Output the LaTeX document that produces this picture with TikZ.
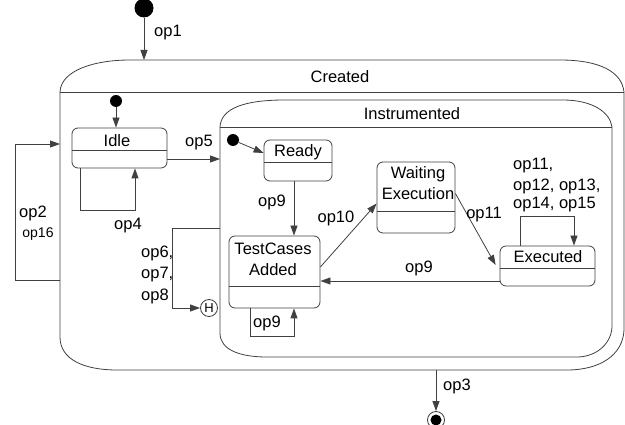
\documentclass[tikz,border=0pt]{standalone}
\usepackage{fontspec}
\setmainfont{Liberation Sans}
\usetikzlibrary{arrows.meta}
\begin{document}
\begin{tikzpicture}[x=1pt,y=-1pt,
  line/.style={draw=black!75, line width=0.8pt},
  arr/.style={line, -{Triangle[length=10pt,width=7pt]}},
  state/.style n args={2}{line, rounded corners=6pt, minimum width=#1, minimum height=#2, inner sep=0pt},
  lbl/.style={font=\fontsize{16.5}{20}\selectfont, inner sep=0pt},
  small/.style={font=\fontsize{14}{17}\selectfont, inner sep=0pt},
  dot/.style={circle, fill=black, inner sep=0pt, minimum size=#1}]
\useasboundingbox (0,0) rectangle (625,425);

% composite state "Created"
\draw[line] (60,92) .. controls (61,70) and (95,60) .. (130,60) -- (560,60)
  .. controls (600,60) and (622,72) .. (624,92) -- (624,330)
  .. controls (623,355) and (600,370) .. (567,370) -- (117,370)
  .. controls (85,370) and (60,360) .. (60,337) -- cycle;
\draw[line] (60,92) -- (624,92);
\node[lbl] (createdT) at (340,77) {Created};

% composite state "Instrumented"
\draw[line] (220,127) .. controls (221,108) and (245,100) .. (285,100) -- (563,100)
  .. controls (592,100) and (610,112) .. (612,127) -- (612,327)
  .. controls (611,345) and (595,357) .. (577,357) -- (267,357)
  .. controls (240,357) and (220,350) .. (220,333) -- cycle;
\draw[line] (220,127) -- (612,127);
\node[lbl] (instrT) at (412,114) {Instrumented};

% boundary points of the composite states
\coordinate (crTop) at (144,60);
\coordinate (crL1) at (60,280);
\coordinate (crL2) at (60,144);
\coordinate (crB) at (436,370);
\coordinate (inL) at (220,159);
\coordinate (inH) at (220,228);

% pseudo states
\node[dot=19pt] (init0) at (144,8) {};
\node[dot=12pt] (init1) at (116,101) {};
\node[dot=12pt] (init2) at (233,140) {};
\node[circle, line, minimum size=17pt, inner sep=0pt, font=\fontsize{13}{15}\selectfont] (hist) at (209,308) {H};
\node[circle, line, minimum size=17pt, inner sep=0pt] (final) at (436,420) {};
\fill (final.center) circle[radius=5.5pt];

% simple states
\node[state={95pt}{40pt}] (idle) at (119.5,148) {};
\draw[line] (idle.west |- 0,150) -- (idle.east |- 0,150);
\node[lbl] (idleT) at (117,141) {Idle};

\node[state={68pt}{41pt}] (ready) at (298,160.5) {};
\draw[line] (ready.west |- 0,162) -- (ready.east |- 0,162);
\node[lbl] (readyT) at (298,152) {Ready};

\node[state={91pt}{72pt}] (tc) at (274.5,272) {};
\draw[line] (tc.west |- 0,286) -- (tc.east |- 0,286);
\node[lbl] (tcT1) at (273,249) {TestCases};
\node[lbl] (tcT2) at (273,270) {Added};

\node[state={78pt}{71pt}] (wait) at (416,197.5) {};
\draw[line] (wait.west |- 0,211) -- (wait.east |- 0,211);
\node[lbl] (waitT1) at (418,174) {Waiting};
\node[lbl] (waitT2) at (418,194) {Execution};

\node[state={95pt}{40pt}] (exec) at (547.5,266) {};
\draw[line] (exec.west |- 0,268) -- (exec.east |- 0,268);
\node[lbl] (execT) at (548,257) {Executed};

% transitions
\draw[arr] (init0) -- (crTop);
\node[lbl] (l1) at (168,33) {op1};

\draw[arr] (crL1) -- ++(-45,0) |- (crL2);
\node[lbl] (l2) at (33,213) {op2};
\node[small] (l16) at (38,234) {op16};

\draw[arr] (init1) -- (init1 |- idle.north);
\draw[arr] ([xshift=-39.5pt]idle.south) -- ++(0,42) -| ([xshift=15.5pt]idle.south);
\node[lbl] (l4) at (128,226) {op4};

\draw[arr] (idle.east |- inL) -- (inL);
\node[lbl] (l5) at (199,143) {op5};

\draw[arr] (init2) -- ([yshift=7.5pt]ready.west);

\draw[arr] ([xshift=-4pt]ready.south) -- ([xshift=-4pt]ready.south |- tc.north);
\node[lbl] (l9a) at (272,202) {op9};

\draw[arr] ([xshift=-24.5pt]tc.south) -- ++(0,28) -| ([xshift=19.5pt]tc.south);
\node[lbl] (l9b) at (267,323) {op9};

\draw[arr] (inH) -- ++(-48,0) |- (hist);
\node[lbl, anchor=west] (l6) at (141,253) {op6,};
\node[lbl, anchor=west] (l7) at (141,275) {op7,};
\node[lbl, anchor=west] (l8) at (141,296) {op8};

\draw[arr] ([yshift=5pt]tc.east) -- ([yshift=-6pt]wait.west);
\node[lbl] (l10) at (336,218) {op10};

\draw[arr] ([yshift=4pt]wait.east) -- ([xshift=-4pt,yshift=1pt]exec.west);
\node[lbl] (l11) at (484,215) {op11};

\draw[arr] ([yshift=-15pt]exec.west) -- ([yshift=-15pt]exec.west -| tc.east);
\node[lbl] (l9c) at (419,268) {op9};

\draw[arr] ([xshift=-27.5pt]exec.north) -- ++(0,-29) -| ([xshift=26.5pt]exec.north);
\node[lbl, anchor=west] (l11b) at (513,166) {op11,};
\node[lbl, anchor=west] (l12) at (513,186) {op12, op13,};
\node[lbl, anchor=west] (l14) at (513,205) {op14, op15};

\draw[arr] (crB) -- (final);
\node[lbl] (l3) at (457,386) {op3};
\end{tikzpicture}
\end{document}
